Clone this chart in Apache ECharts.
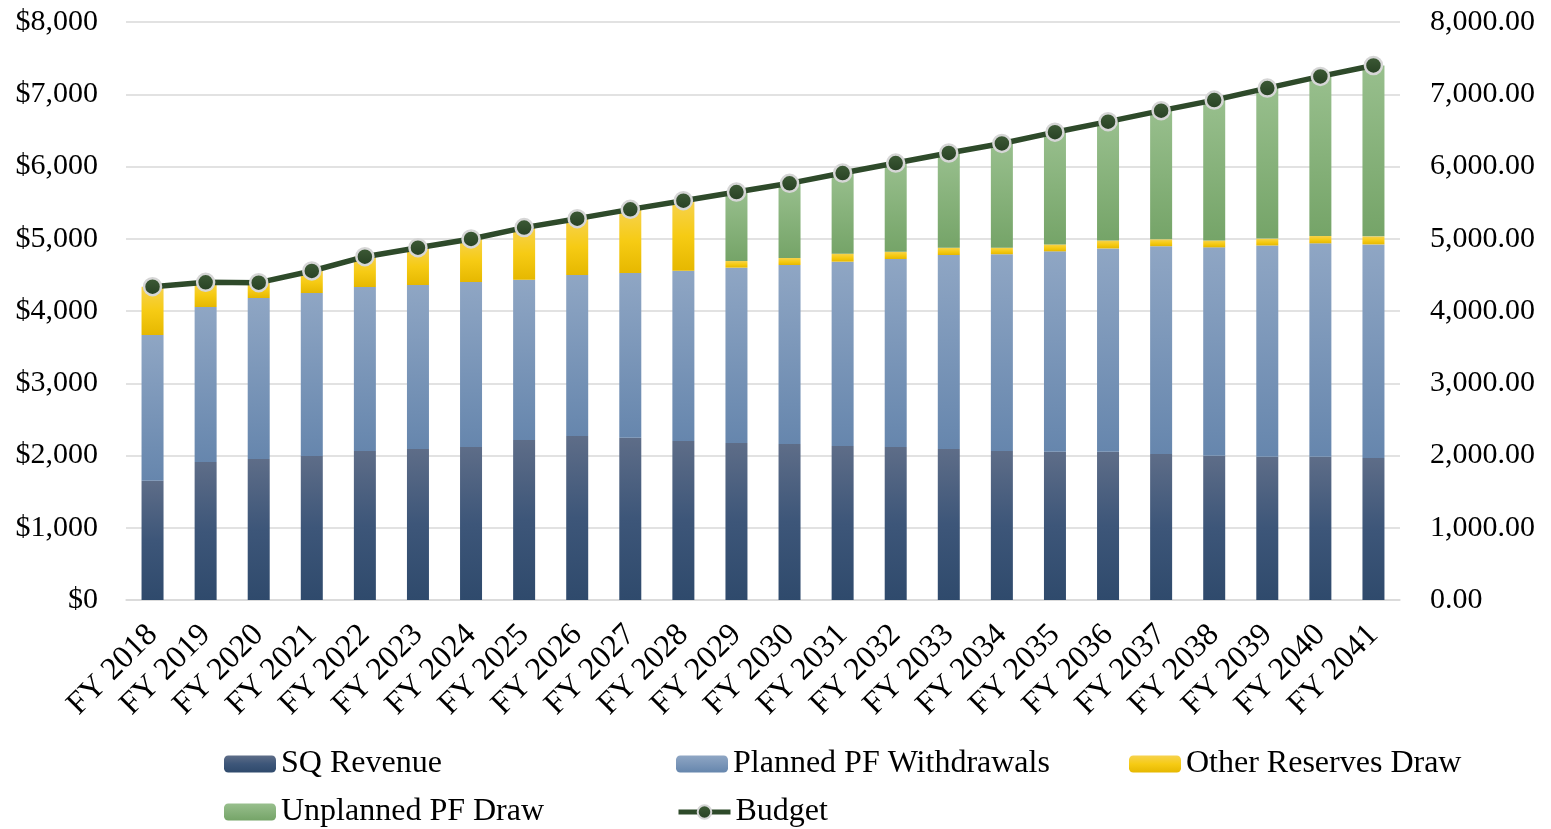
<!DOCTYPE html>
<html>
<head>
<meta charset="utf-8">
<script src="https://cdn.jsdelivr.net/npm/echarts@6/dist/echarts.min.js"></script>
<style>
html,body{margin:0;padding:0;background:#fff;}
#c{width:1551px;height:829px;}
</style>
</head>
<body>
<div id="c"></div>
<script>
const categories = ['FY 2018','FY 2019','FY 2020','FY 2021','FY 2022','FY 2023','FY 2024','FY 2025','FY 2026','FY 2027','FY 2028','FY 2029','FY 2030','FY 2031','FY 2032','FY 2033','FY 2034','FY 2035','FY 2036','FY 2037','FY 2038','FY 2039','FY 2040','FY 2041'];
const sqRevenue = [1651,1910,1952,1993,2062,2090,2118,2215,2270,2247,2201,2173,2159,2131,2118,2090,2063,2052,2052,2022,1997,1982,1982,1967];
const plannedPF = [2017,2145,2228,2256,2270,2270,2283,2219,2228,2279,2357,2427,2478,2552,2602,2685,2723,2774,2814,2875,2884,2925,2955,2955];
const otherReserves = [669,342,212,305,420,516,596,720,780,881,969,92,97,111,101,101,91,96,111,95,96,95,101,111];
const unplannedPF = [0,0,0,0,0,0,0,0,0,0,0,955,1033,1116,1227,1311,1442,1553,1644,1781,1942,2083,2209,2365];
const budget = [4337,4397,4392,4554,4752,4876,4997,5154,5278,5407,5527,5647,5767,5910,6048,6187,6319,6475,6621,6773,6919,7085,7247,7398];
const leftTicks = {min:0, max:8000, interval:1000};

const FONT = 'Liberation Serif';

function grad(top, bottom, mid){
  const stops = mid ? [{offset:0,color:top},{offset:0.5,color:mid},{offset:1,color:bottom}]
                    : [{offset:0,color:top},{offset:1,color:bottom}];
  return new echarts.graphic.LinearGradient(0,0,0,1,stops);
}
const sqColor = grad('#5E6D88','#2F4A6C','#3D5679');
const plColor = grad('#8FA6C4','#6686AD');
const otColor = grad('#F6D24E','#E6B800','#F6CB14');
const unColor = grad('#98BF8D','#75A468');
const lineColor = '#2E4A2A';

const chart = echarts.init(document.getElementById('c'), null, {renderer:'canvas'});

function legendAt(name, left, top){
  return {
    data:[name], left:left, top:top, padding:0,
    itemWidth:52, itemHeight:17, itemGap:0,
    lineStyle:{width:5},
    textStyle:{fontFamily:FONT, fontSize:32, color:'#000', lineHeight:34}
  };
}

const barBase = {type:'bar', stack:'total', barWidth:22, yAxisIndex:0};

chart.setOption({
  animation:false,
  backgroundColor:'#fff',
  grid:{left:126, right:151, top:22, bottom:229, containLabel:false},
  legend:[
    legendAt('SQ Revenue',224,747),
    legendAt('Planned PF Withdrawals',676,747),
    legendAt('Other Reserves Draw',1129,747),
    legendAt('Unplanned PF Draw',224,795),
    legendAt('Budget',676,795)
  ],
  xAxis:{
    type:'category', data:categories,
    axisTick:{show:false},
    axisLine:{lineStyle:{color:'#d9d9d9', width:1.5}},
    axisLabel:{rotate:45, margin:30, fontFamily:FONT, fontSize:32, color:'#000', interval:0}
  },
  yAxis:[
    {type:'value', min:leftTicks.min, max:leftTicks.max, interval:leftTicks.interval,
     splitLine:{lineStyle:{color:'#d9d9d9', width:1.5}},
     axisLine:{show:false}, axisTick:{show:false},
     axisLabel:{margin:28, fontFamily:FONT, fontSize:30, color:'#000',
       formatter:v=>'$'+v.toLocaleString('en-US')}},
    {type:'value', min:leftTicks.min, max:leftTicks.max, interval:leftTicks.interval,
     splitLine:{show:false}, axisLine:{show:false}, axisTick:{show:false},
     axisLabel:{margin:30, fontFamily:FONT, fontSize:30, color:'#000',
       formatter:v=>v.toLocaleString('en-US',{minimumFractionDigits:2,maximumFractionDigits:2})}}
  ],
  series:[
    Object.assign({}, barBase, {name:'SQ Revenue', data:sqRevenue, itemStyle:{color:sqColor}}),
    Object.assign({}, barBase, {name:'Planned PF Withdrawals', data:plannedPF, itemStyle:{color:plColor}}),
    Object.assign({}, barBase, {name:'Other Reserves Draw', data:otherReserves, itemStyle:{color:otColor}}),
    Object.assign({}, barBase, {name:'Unplanned PF Draw', data:unplannedPF, itemStyle:{color:unColor}}),
    {type:'line', name:'Budget', data:budget, yAxisIndex:1, z:10,
     symbol:'circle', symbolSize:17, showAllSymbol:true,
     lineStyle:{color:lineColor, width:5.5},
     itemStyle:{color:grad('#3E5C37','#263F22'), borderColor:'#d6d6d6', borderWidth:2.5}}
  ]
});
</script>
</body>
</html>
